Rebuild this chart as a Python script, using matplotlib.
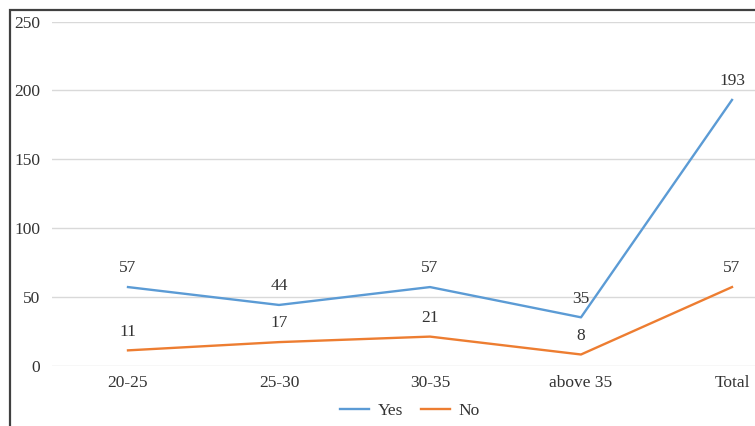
import matplotlib
matplotlib.use("Agg")
import matplotlib.pyplot as plt
from matplotlib.patches import Rectangle

categories = ["20-25", "25-30", "30-35", "above 35", "Total"]
yes_values = [57, 44, 57, 35, 193]
no_values = [11, 17, 21, 8, 57]
y_ticks = [0, 50, 100, 150, 200, 250]

plt.rcParams["font.family"] = ["Liberation Serif", "DejaVu Serif"]

W, H = 755, 426
FS = 12.5
TXT = "#333333"
fig = plt.figure(figsize=(W / 100, H / 100), dpi=100)

# chart frame
fig.patches.append(Rectangle((10 / W, -0.1), 2.0, (H - 9.5) / H + 0.1,
                             transform=fig.transFigure, fill=False,
                             edgecolor="#404040", linewidth=1.6))

ax = fig.add_axes([52.5 / W, (H - 365.5) / H, 755 / W, 344 / H])
x = list(range(len(categories)))
l1, = ax.plot(x, yes_values, color="#5b9bd5", linewidth=1.7, label="Yes")
l2, = ax.plot(x, no_values, color="#ed7d31", linewidth=1.7, label="No")

for xi, v in zip(x, yes_values):
    ax.annotate(str(v), (xi, v), xytext=(0, 13.5), textcoords="offset points",
                ha="center", va="center", fontsize=FS, color=TXT)
for xi, v in zip(x, no_values):
    ax.annotate(str(v), (xi, v), xytext=(0, 13.5), textcoords="offset points",
                ha="center", va="center", fontsize=FS, color=TXT)

ax.set_xlim(-0.5, len(categories) - 0.5)
ax.set_ylim(0, 250)
ax.set_yticks(y_ticks)
ax.set_xticks(x)
ax.set_xticklabels(categories)
ax.tick_params(axis="both", length=0, labelsize=FS, labelcolor=TXT)
ax.tick_params(axis="y", pad=9)
ax.tick_params(axis="x", pad=7)
ax.grid(axis="y", color="#d9d9d9", linewidth=1.0)
ax.set_axisbelow(True)
for s in ax.spines.values():
    s.set_visible(False)

fig.legend(handles=[l1, l2], loc="center", bbox_to_anchor=(410 / W, (H - 411) / H),
           ncol=2, frameon=False, fontsize=FS, handlelength=1.7,
           columnspacing=1.0, handletextpad=0.5, labelcolor=TXT)

fig.savefig("out.png", dpi=100)
